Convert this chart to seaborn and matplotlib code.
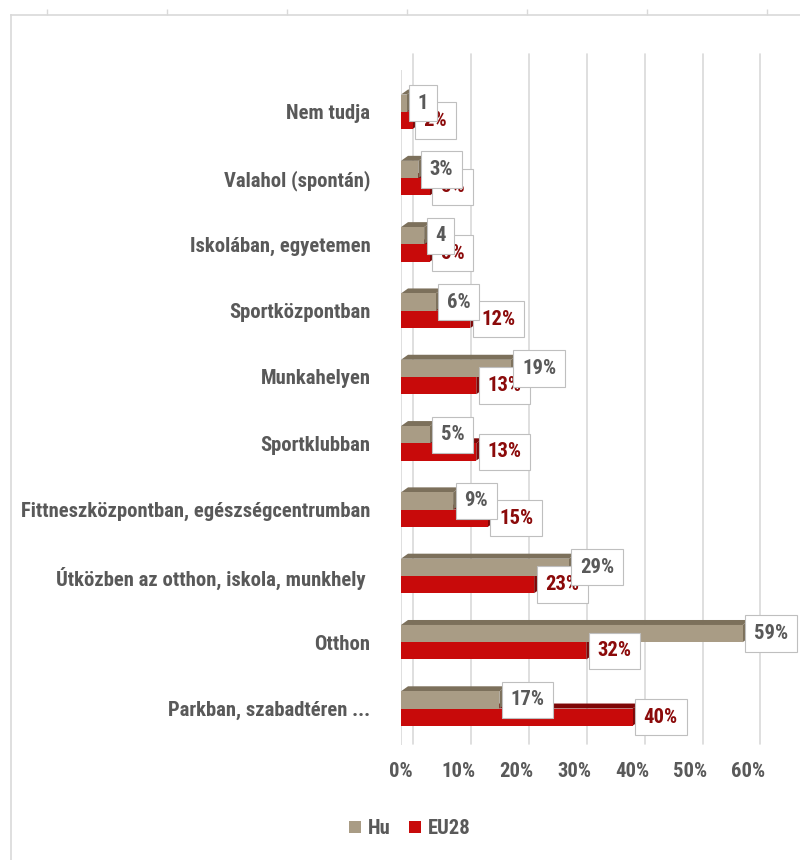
import matplotlib
matplotlib.use("Agg")
import matplotlib.pyplot as plt
import matplotlib.transforms as mtransforms
from matplotlib import font_manager as fm
from matplotlib.patches import Polygon
from matplotlib.ticker import PercentFormatter, MultipleLocator
from matplotlib.textpath import TextPath
from matplotlib.font_manager import FontProperties
import seaborn as sns
import pandas as pd

categories = [
    "Nem tudja",
    "Valahol (spontán)",
    "Iskolában, egyetemen",
    "Sportközpontban",
    "Munkahelyen",
    "Sportklubban",
    "Fittneszközpontban, egészségcentrumban",
    "Útközben az otthon, iskola, munkhely ",
    "Otthon",
    "Parkban, szabadtéren ...",
]
hu_values = [1, 3, 4, 6, 19, 5, 9, 29, 59, 17]
eu_values = [2, 5, 5, 12, 13, 13, 15, 23, 32, 40]
hu_labels = ["1", "3%", "4", "6%", "19%", "5%", "9%", "29%", "59%", "17%"]
eu_labels = ["2%", "5%", "5%", "12%", "13%", "13%", "15%", "23%", "32%", "40%"]
series = ["Hu", "EU28"]
x_ticks = [0, 10, 20, 30, 40, 50, 60]

HU_COL = "#A99C85"
EU_COL = "#C80A0A"
HU_DARK = "#7C705B"
EU_DARK = "#7E0606"
TXT = "#595959"

sns.set_theme(style="white")

# pick a condensed bold face if one is available
avail = {f.name for f in fm.fontManager.ttflist}
main = "DejaVu Sans"
for cand in ["Roboto Condensed", "Oswald", "Archivo Narrow",
             "Liberation Sans Narrow", "Fjalla One", "Anton"]:
    if cand in avail:
        main = cand
        break
FONT = [main, "DejaVu Sans"]
WEIGHT = "normal" if main in ("Anton", "Fjalla One") else "bold"
plt.rcParams["font.family"] = FONT
plt.rcParams["font.weight"] = WEIGHT

# size the font so the longest category label spans ~348 px
probe = FontProperties(family=main, weight=WEIGHT, size=13)
w13 = TextPath((0, 0), categories[6], prop=probe).get_extents().width  # in points
FS = 13 * (348 * 0.72) / w13
FS = max(9, min(FS, 15))

df = pd.DataFrame({
    "cat": categories * 2,
    "val": [v / 100 for v in hu_values] + [v / 100 for v in eu_values],
    "series": ["Hu"] * len(categories) + ["EU28"] * len(categories),
})

fig = plt.figure(figsize=(8, 8.6), dpi=100)

# faint spreadsheet-style frame
fr = fig.add_axes([11 / 800, 0, 1 - 11 / 800, 1 - 15 / 860])
fr.set_facecolor("none")
for s in ["right", "bottom"]:
    fr.spines[s].set_visible(False)
for s in ["left", "top"]:
    fr.spines[s].set_color("#D9D9D9")
    fr.spines[s].set_linewidth(1.2)
fr.set_xlim(0, 789)
fr.set_ylim(845, 0)
fr.xaxis.set_ticks_position("top")
fr.set_xticks([36 + 120 * i for i in range(7)])
fr.set_yticks([10 + 31.3 * i for i in range(27)])
fr.set_xticklabels([])
fr.set_yticklabels([])
fr.tick_params(axis="both", colors="#D9D9D9", length=4, width=1, direction="out")

ax = fig.add_axes([401 / 800, 1 - 745 / 860, 359 / 800, 675 / 860])
ax.set_facecolor("none")
sns.barplot(data=df, x="val", y="cat", hue="series", hue_order=series,
            order=categories, palette=[HU_COL, EU_COL], width=0.52,
            saturation=1, orient="h", ax=ax, legend=True, zorder=3,
            edgecolor="none", linewidth=0)

ax.set_xlim(0, 0.62)
ax.set_ylim(9.55, -0.63)
ax.xaxis.set_major_locator(MultipleLocator(0.1))
ax.xaxis.set_major_formatter(PercentFormatter(1.0, decimals=0))

# back-wall gridlines, offset for 3D look
off = mtransforms.ScaledTranslation(12 / 100, 8 / 100, fig.dpi_scale_trans)
for t in x_ticks:
    ax.plot([t / 100, t / 100], [-0.01, 1.012], color="#D9D9D9", lw=1.2,
            zorder=0.5, transform=ax.get_xaxis_transform() + off,
            clip_on=False)
ax.axvline(0, color="#D9D9D9", lw=1.2, zorder=0.6)

# 3D top and side faces derived from bars
px_x = 359 / 0.62
px_y = 675 / (9.55 + 0.63)
dx = 7 / px_x
dy = 5 / px_y
n = len(categories)
bars = list(ax.patches)[: 2 * n]
for i, b in enumerate(bars):
    is_hu = i < n
    x0, y0 = b.get_x(), b.get_y()
    w, h = b.get_width(), b.get_height()
    dark = HU_DARK if is_hu else EU_DARK
    zf = 2.6 if is_hu else 1.6
    top = Polygon([(x0, y0), (x0 + w, y0), (x0 + w + dx, y0 - dy), (x0 + dx, y0 - dy)],
                  closed=True, facecolor=dark, edgecolor="none", zorder=zf)
    side = Polygon([(x0 + w, y0), (x0 + w + dx, y0 - dy), (x0 + w + dx, y0 + h - dy), (x0 + w, y0 + h)],
                   closed=True, facecolor=dark, edgecolor="none", zorder=zf)
    ax.add_patch(top)
    ax.add_patch(side)
    b.set_zorder(3.5 if is_hu else 2.5)

# data labels
for i, b in enumerate(bars):
    is_hu = i < n
    lab = hu_labels[i] if is_hu else eu_labels[i - n]
    yc = b.get_y() + b.get_height() / 2
    ax.annotate(lab, xy=(b.get_width(), yc), xytext=(8, 0),
                textcoords="offset points", ha="left", va="center",
                fontsize=FS, fontweight=WEIGHT, family=FONT,
                color=TXT if is_hu else "#8B0A0A",
                bbox=dict(boxstyle="square,pad=0.42", fc="white",
                          ec="#BFBFBF", lw=0.8),
                zorder=6 if is_hu else 5, annotation_clip=False)

ax.set_xlabel("")
ax.set_ylabel("")
for s in ax.spines.values():
    s.set_visible(False)
ax.tick_params(axis="y", length=0, pad=22, labelsize=FS, labelcolor=TXT)
ax.tick_params(axis="x", length=0, pad=12, labelsize=FS, labelcolor=TXT)
for lab in ax.get_yticklabels() + ax.get_xticklabels():
    lab.set_fontweight(WEIGHT)
    lab.set_family(FONT)

handles, labels = ax.get_legend_handles_labels()
ax.get_legend().remove()
fig.legend(handles, labels, loc="center", bbox_to_anchor=(410 / 800, 1 - 829 / 860),
           ncol=2, frameon=False, handlelength=0.55, handleheight=0.55,
           handletextpad=0.35, columnspacing=0.9,
           prop=dict(family=FONT, weight=WEIGHT, size=FS), labelcolor=TXT)

fig.savefig("out.png", dpi=100, facecolor="white")
